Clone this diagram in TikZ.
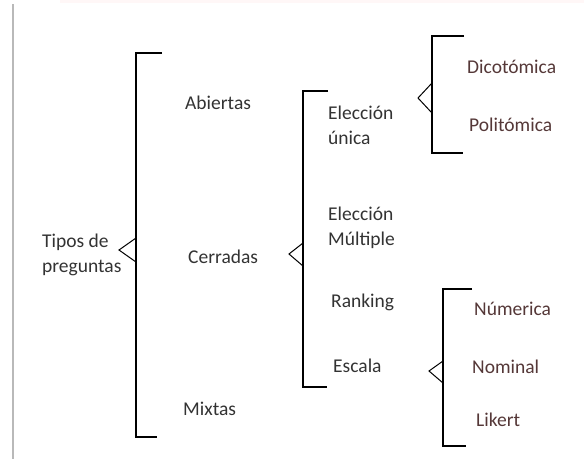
\documentclass[tikz,border=0pt]{standalone}
\usepackage{fontspec}
\setmainfont{Carlito}
\definecolor{txtgray}{HTML}{333333}
\definecolor{txtbrown}{HTML}{553838}
\begin{document}
\begin{tikzpicture}[x=1pt,y=-1pt,
  lbl/.style={anchor=west,inner sep=0pt,align=left,font=\fontsize{19.5}{25}\selectfont,text=txtgray},
  lblb/.style={lbl,text=txtbrown},
  brk/.style={draw=black,line width=1.4pt,line join=miter},
  tri/.style={draw=black,line width=1pt}]
\useasboundingbox (0,0) rectangle (584,459);
\fill[white] (0,0) rectangle (584,459);
% shadow of frame
\draw[gray!55,line width=2.5pt] (13,4) -- (13,459);
\draw[red!3,line width=3pt] (60,1.5) -- (584,1.5);

% level 0
\node[lbl] (tipos) at (42,255) {Tipos de\\preguntas};
% level 1
\node[lbl] (abiertas) at (185,103) {Abiertas};
\node[lbl] (cerradas) at (188,257) {Cerradas};
\node[lbl] (mixtas) at (183,409) {Mixtas};
% level 2
\node[lbl] (unica) at (328,125) {Elección\\única};
\node[lbl] (multiple) at (328,228) {Elección\\Múltiple};
\node[lbl] (ranking) at (331,302) {Ranking};
\node[lbl] (escala) at (333,366) {Escala};
% level 3
\node[lblb] (dico) at (467,67) {Dicotómica};
\node[lblb] (poli) at (469,125) {Politómica};
\node[lblb] (num) at (474,309) {Númerica};
\node[lblb] (nom) at (472,367) {Nominal};
\node[lblb] (lik) at (476,420) {Likert};

% bracket 1
\coordinate (b1t) at (136,53);
\coordinate (b1b) at (136,437);
\coordinate (b1tip) at (119,250);
\draw[brk] (162,53) -- (b1t) -- (b1b) -- (157,437);
\draw[tri] (136,238) -- (b1tip) -- (136,262);

% bracket 2
\coordinate (b2t) at (303,91);
\coordinate (b2b) at (303,387);
\coordinate (b2tip) at (289,254);
\draw[brk] (328,91) -- (b2t) -- (b2b) -- (327,387);
\draw[tri] (303,243) -- (b2tip) -- (303,266);

% bracket 3
\coordinate (b3t) at (432,36);
\coordinate (b3b) at (432,153);
\coordinate (b3tip) at (418,98);
\draw[brk] (464,36) -- (b3t) -- (b3b) -- (463,153);
\draw[tri] (432,83) -- (b3tip) -- (432,113);

% bracket 4
\coordinate (b4t) at (443,289);
\coordinate (b4b) at (443,446);
\coordinate (b4tip) at (429,371);
\draw[brk] (472,289) -- (b4t) -- (b4b) -- (466,446);
\draw[tri] (443,361) -- (b4tip) -- (443,383);
\end{tikzpicture}
\end{document}
